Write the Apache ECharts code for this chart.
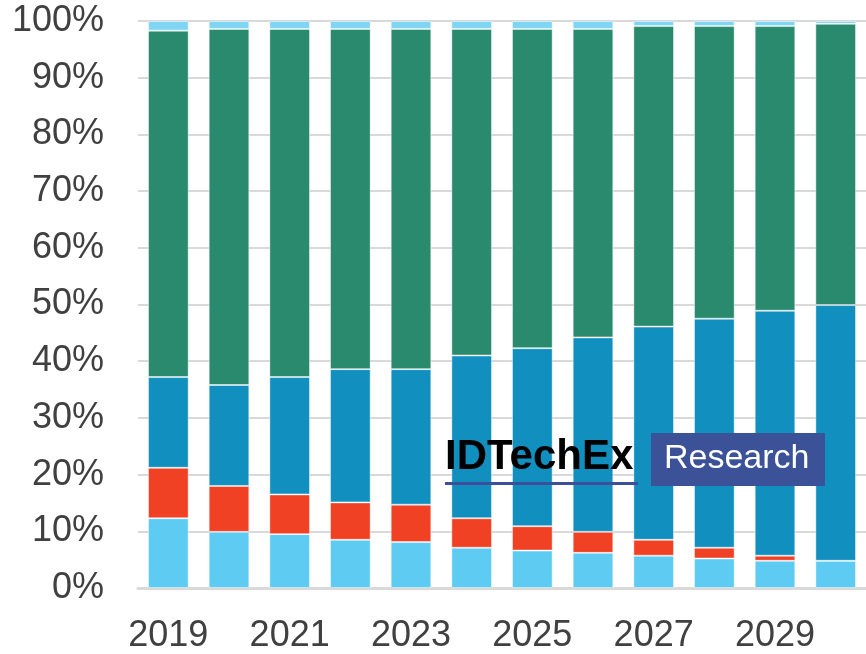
<!DOCTYPE html>
<html>
<head>
<meta charset="utf-8">
<script src="https://cdn.jsdelivr.net/npm/echarts@6/dist/echarts.min.js"></script>
<style>
  html, body { margin: 0; padding: 0; background: #fff; }
  #chart { width: 866px; height: 654px; }
</style>
</head>
<body>
<div id="chart"></div>
<script>
const years = ['2019', '2020', '2021', '2022', '2023', '2024', '2025', '2026', '2027', '2028', '2029', '2030'];
const yTicks = [0, 10, 20, 30, 40, 50, 60, 70, 80, 90, 100];

// share of each segment, % (bottom to top)
const lightBlue = [12.3, 9.9, 9.5, 8.5, 8.1, 7.1, 6.6, 6.2, 5.7, 5.2, 4.8, 4.8];
const red = [8.9, 8.1, 7.0, 6.6, 6.6, 5.2, 4.3, 3.7, 2.8, 1.9, 0.9, 0];
const blue = [16.0, 17.8, 20.7, 23.5, 23.9, 28.7, 31.4, 34.3, 37.6, 40.4, 43.2, 45.1];
const green = [61.1, 62.8, 61.4, 60.0, 60.0, 57.6, 56.3, 54.4, 53.0, 51.6, 50.2, 49.6];
const topBlue = [1.7, 1.4, 1.4, 1.4, 1.4, 1.4, 1.4, 1.4, 0.9, 0.9, 0.9, 0.5];

const colors = ['#5ecbf2', '#f04124', '#118fbe', '#2a8a6e', '#80d5f4'];
const seriesData = [lightBlue, red, blue, green, topBlue];
const names = ['Segment 1', 'Segment 2', 'Segment 3', 'Segment 4', 'Segment 5'];

const chart = echarts.init(document.getElementById('chart'));

chart.setOption({
  animation: false,
  grid: { left: 138, top: 21, width: 730, height: 568 },
  xAxis: {
    type: 'category',
    data: years,
    axisTick: { show: false },
    axisLine: { lineStyle: { color: '#d9d9d9', width: 3 } },
    axisLabel: {
      interval: 1,
      margin: 30,
      color: '#404040',
      fontSize: 36,
      fontFamily: 'Liberation Sans, Arial, sans-serif'
    }
  },
  yAxis: {
    type: 'value',
    min: yTicks[0],
    max: yTicks[yTicks.length - 1],
    interval: 10,
    axisLabel: {
      formatter: '{value}%',
      margin: 34,
      color: '#404040',
      fontSize: 36,
      fontFamily: 'Liberation Sans, Arial, sans-serif'
    },
    splitLine: { lineStyle: { color: '#d9d9d9', width: 2 } }
  },
  series: seriesData.map((d, i) => ({
    name: names[i],
    type: 'bar',
    stack: 'total',
    barWidth: '67%',
    data: d,
    itemStyle: {
      color: colors[i],
      borderColor: 'rgba(255,255,255,0.45)',
      borderWidth: 1
    }
  })),
  // watermark logo
  graphic: [
    {
      type: 'text',
      left: 445,
      top: 436,
      z: 100,
      style: {
        text: 'IDTechEx',
        fill: '#000',
        font: 'bold 42px "Liberation Sans", Arial, sans-serif'
      }
    },
    {
      type: 'rect',
      z: 100,
      shape: { x: 445, y: 482, width: 193, height: 3 },
      style: { fill: '#3d4f9a' }
    },
    {
      type: 'rect',
      z: 100,
      shape: { x: 651, y: 433, width: 174, height: 53 },
      style: { fill: '#3b5198' }
    },
    {
      type: 'text',
      left: 664,
      top: 442,
      z: 101,
      style: {
        text: 'Research',
        fill: '#fff',
        font: '34px "Liberation Sans", Arial, sans-serif'
      }
    }
  ]
});
</script>
</body>
</html>
